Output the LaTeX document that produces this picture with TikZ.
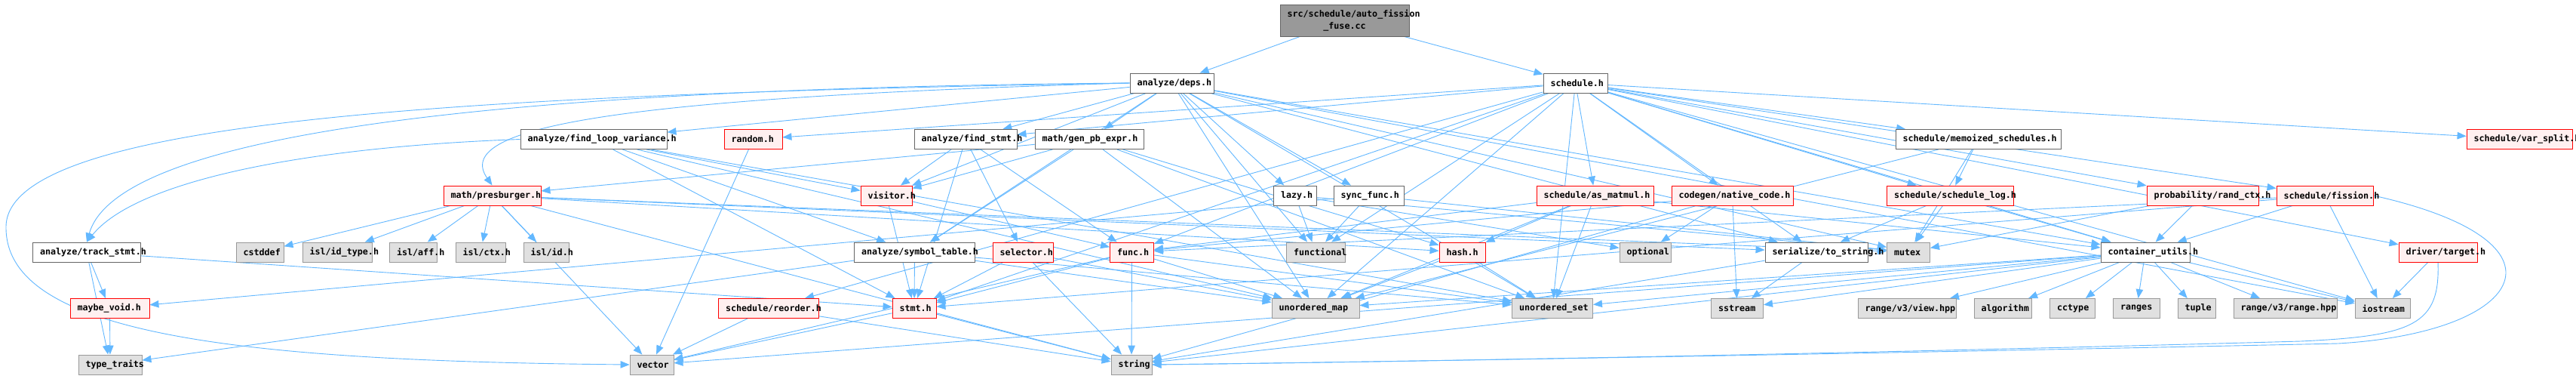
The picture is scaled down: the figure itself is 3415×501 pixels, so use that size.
\documentclass[tikz,border=0pt]{standalone}
\usepackage{fontspec}
\newfontfamily\hfont{DejaVu Sans Mono Bold}
\usetikzlibrary{arrows.meta,backgrounds}
\definecolor{edgeblue}{HTML}{63B8FF}
\definecolor{redfill}{HTML}{FFF0F0}
\definecolor{sysfill}{HTML}{E0E0E0}
\definecolor{sysline}{HTML}{999999}
\definecolor{fileline}{HTML}{666666}
\begin{document}
\begin{tikzpicture}[x=1pt,y=-1pt,
  >={Triangle[length=12pt,width=9.5pt]},
  file/.style={draw=fileline,fill=white,line width=0.9pt,minimum height=26pt,
    inner xsep=9.5pt,inner ysep=0pt,align=left,text width=#1pt-19pt,
    font=\hfont\fontsize{11.7}{16}\selectfont,
    execute at begin node={\hyphenpenalty=10000 \exhyphenpenalty=10000 }},
  redfile/.style={file=#1,draw=red,fill=redfill},
  sysfile/.style={file=#1,draw=sysline,fill=sysfill},
  rootfile/.style={file=#1,fill=sysline,align=center},
  dep/.style={->,draw=edgeblue,line width=0.9pt}]
\useasboundingbox (0,0) rectangle (3415,501);
\node[rootfile=171,minimum height=42pt] (root) at (1782.5,27) {src/schedule/auto\_fission\\\_fuse.cc};
\node[file=111] (deps) at (1553.5,110) {analyze/deps.h};
\node[file=85] (schedule) at (2088.5,110) {schedule.h};
\node[file=194] (flv) at (787,184.5) {analyze/find\_loop\_variance.h};
\node[redfile=77] (random) at (998.5,184.5) {random.h};
\node[file=136] (findstmt) at (1280,184.5) {analyze/find\_stmt.h};
\node[file=144] (genpb) at (1444,184.5) {math/gen\_pb\_expr.h};
\node[file=219] (memoized) at (2622.5,184.5) {schedule/memoized\_schedules.h};
\node[redfile=140] (varsplit) at (3340,184.5) {schedule/var\_split.h};
\node[redfile=129] (presburger) at (652.5,259) {math/presburger.h};
\node[redfile=68] (visitor) at (1175,259) {visitor.h};
\node[file=57] (lazy) at (1717,259) {lazy.h};
\node[file=93] (syncfunc) at (1814.5,259) {sync\_func.h};
\node[redfile=155] (asmatmul) at (2114.5,259) {schedule/as\_matmul.h};
\node[redfile=161] (nativecode) at (2296.5,259) {codegen/native\_code.h};
\node[redfile=168] (schedlog) at (2585.5,259) {schedule/schedule\_log.h};
\node[redfile=148] (randctx) at (2920,259) {probability/rand\_ctx.h};
\node[redfile=128] (fission) at (3082,259) {schedule/fission.h};
\node[file=143] (trackstmt) at (115,334) {analyze/track\_stmt.h};
\node[sysfile=63] (cstddef) at (344.5,334) {cstddef};
\node[sysfile=92] (idtype) at (447,334) {isl/id\_type.h};
\node[sysfile=63] (aff) at (548,334) {isl/aff.h};
\node[sysfile=66] (ctx) at (637,334) {isl/ctx.h};
\node[sysfile=60] (islid) at (724,334) {isl/id.h};
\node[file=160] (symtab) at (1212.5,334) {analyze/symbol\_table.h};
\node[redfile=80] (selector) at (1356,334) {selector.h};
\node[redfile=58] (func) at (1500.5,334) {func.h};
\node[sysfile=78] (functional) at (1744.5,334) {functional};
\node[redfile=61] (hash) at (1938.5,334) {hash.h};
\node[sysfile=68] (optional) at (2181,334) {optional};
\node[file=136] (tostring) at (2408,334) {serialize/to\_string.h};
\node[sysfile=57] (mutex) at (2530,334) {mutex};
\node[file=118] (cutils) at (2844,334) {container\_utils.h};
\node[redfile=104] (target) at (3232,334) {driver/target.h};
\node[redfile=105] (maybevoid) at (145.5,408.5) {maybe\_void.h};
\node[redfile=133] (reorder) at (1019,408.5) {schedule/reorder.h};
\node[redfile=58] (stmt) at (1212,408.5) {stmt.h};
\node[sysfile=116] (umap) at (1744,408.5) {unordered\_map};
\node[sysfile=107] (uset) at (2058,408.5) {unordered\_set};
\node[sysfile=69] (sstream) at (2303,408.5) {sstream};
\node[sysfile=130] (viewhpp) at (2528,408.5) {range/v3/view.hpp};
\node[sysfile=76] (algorithm) at (2655,408.5) {algorithm};
\node[sysfile=60] (cctype) at (2747.5,408.5) {cctype};
\node[sysfile=62] (ranges) at (2832.5,408.5) {ranges};
\node[sysfile=50] (tuple) at (2912,408.5) {tuple};
\node[sysfile=137] (rangehpp) at (3029.5,408.5) {range/v3/range.hpp};
\node[sysfile=73] (iostream) at (3158.5,408.5) {iostream};
\node[sysfile=84] (typetraits) at (146,483) {type\_traits};
\node[sysfile=58] (vector) at (864,483) {vector};
\node[sysfile=54] (string) at (1500,483) {string};
\begin{scope}[on background layer]
\fill[white] (0,0) rectangle (3415,501);
\foreach \t in {deps,schedule} \draw[dep] (root) -- (\t);
\foreach \t in {flv,findstmt,genpb,visitor,lazy,syncfunc,symtab,tostring,mutex,cutils,functional,umap,uset,iostream}
  \draw[dep] (deps) -- (\t);
\draw[dep] (deps.west) .. controls (500,118) and (150,200) .. (trackstmt.north);
\draw[dep] (deps.west) .. controls (800,130) and (600,170) .. (presburger.north);
\draw[dep] (deps.west) .. controls (600,125) and (10,160) .. (8,300)
  .. controls (6,440) and (300,478) .. (vector.west);
\foreach \t in {findstmt,random,func,stmt,asmatmul,nativecode,schedlog,memoized,varsplit,randctx,fission,target,cutils,functional,umap,uset,reorder,iostream,tostring}
  \draw[dep] (schedule) -- (\t);
\foreach \t in {symtab,visitor,umap,uset,stmt} \draw[dep] (flv) -- (\t);
\draw[dep] (flv.west) .. controls (400,195) and (180,240) .. (trackstmt.north);
\draw[dep] (random) -- (vector);
\foreach \t in {visitor,selector,func,stmt} \draw[dep] (findstmt) -- (\t);
\foreach \t in {presburger,visitor,symtab,hash,umap,uset} \draw[dep] (genpb) -- (\t);
\foreach \t in {cstddef,idtype,aff,ctx,islid,vector,string,tostring,hash,mutex} \draw[dep] (presburger) -- (\t);
\foreach \t in {stmt,func} \draw[dep] (visitor) -- (\t);
\foreach \t in {functional,optional,mutex} \draw[dep] (lazy) -- (\t);
\foreach \t in {functional,mutex,maybevoid} \draw[dep] (syncfunc) -- (\t);
\foreach \t in {hash,umap,uset,func,cutils} \draw[dep] (asmatmul) -- (\t);
\foreach \t in {optional,sstream,string,func} \draw[dep] (nativecode) -- (\t);
\foreach \t in {tostring,mutex,cutils} \draw[dep] (schedlog) -- (\t);
\foreach \t in {schedlog,mutex,umap} \draw[dep] (memoized) -- (\t);
\foreach \t in {cutils,mutex} \draw[dep] (randctx) -- (\t);
\foreach \t in {cutils,iostream,func,stmt} \draw[dep] (fission) -- (\t);
\draw[dep] (fission.east) .. controls (3420,320) and (3350,440) .. (3100,455)
  .. controls (2500,468) and (1800,480) .. (string.east);
\draw[dep] (target) -- (iostream);
\draw[dep] (target.south) .. controls (3235,430) and (3200,445) .. (3050,452)
  .. controls (2400,470) and (1800,480) .. (string.east);
\foreach \t in {maybevoid,typetraits,stmt} \draw[dep] (trackstmt) -- (\t);
\draw[dep] (maybevoid) -- (typetraits);
\foreach \t in {stmt,umap,uset,typetraits} \draw[dep] (symtab) -- (\t);
\foreach \t in {stmt,string,umap} \draw[dep] (selector) -- (\t);
\foreach \t in {stmt,string,umap,uset,vector} \draw[dep] (func) -- (\t);
\foreach \t in {string,vector} \draw[dep] (stmt) -- (\t);
\foreach \t in {umap,uset} \draw[dep] (hash) -- (\t);
\foreach \t in {sstream,string} \draw[dep] (tostring) -- (\t);
\foreach \t in {viewhpp,algorithm,cctype,ranges,tuple,rangehpp,iostream,string,vector,umap,uset,sstream}
  \draw[dep] (cutils) -- (\t);
\foreach \t in {vector,string} \draw[dep] (reorder) -- (\t);
\end{scope}
\end{tikzpicture}
\end{document}
